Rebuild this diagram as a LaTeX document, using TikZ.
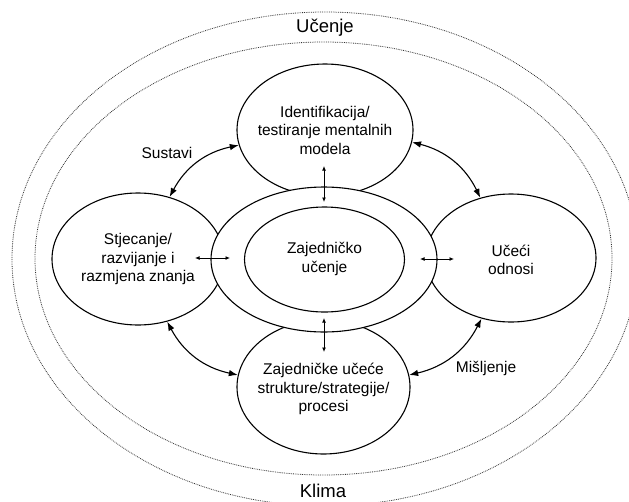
\documentclass[tikz,border=0pt]{standalone}
\usepackage{fontspec}
\setmainfont{Liberation Sans}
\usetikzlibrary{shapes.geometric,arrows.meta}
\begin{document}
\begin{tikzpicture}[x=1pt,y=-1pt,
  sat/.style={draw, line width=1.1pt, ellipse, inner sep=0pt, fill=white},
  txt/.style={font=\fontsize{15.5}{18.5}\selectfont, align=center, inner sep=0pt},
  bigtxt/.style={font=\fontsize{18.5}{22}\selectfont, inner sep=0pt},
  dotring/.style={draw=black!80, line width=0.8pt, dash pattern=on 0.8pt off 1pt},
  bigarrow/.style={line width=1.1pt, {Latex[length=9pt,width=6.5pt]}-{Latex[length=9pt,width=6.5pt]}, bend left=25},
  smallarrow/.style={line width=0.9pt, {Latex[length=4.5pt,width=4pt]}-{Latex[length=4.5pt,width=4pt]}}
]
\fill[white] (0,0) rectangle (629,501);
\useasboundingbox (0,0) rectangle (629,501);

% dotted rings
\draw[dotring] (325,259) ellipse [x radius=313, y radius=247];
\draw[dotring] (323.5,258.5) ellipse [x radius=288.5, y radius=216.5];

% satellite ellipses
\node[sat, minimum width=176pt, minimum height=132pt] (top) at (325,130) {};
\node[sat, minimum width=172pt, minimum height=132pt] (left) at (138,259) {};
\node[sat, minimum width=170pt, minimum height=128pt] (right) at (511,258) {};
\node[sat, minimum width=173pt, minimum height=134pt] (bottom) at (323.5,387) {};

% central ellipses
\node[sat, minimum width=226pt, minimum height=145pt] (cout) at (324,259.5) {};
\node[sat, minimum width=160pt, minimum height=105pt] (cin) at (324.5,259.5) {};

% texts
\node[txt] (ttop) at (325,130) {Identifikacija/\\testiranje mentalnih\\modela};
\node[txt] (tleft) at (138,259) {Stjecanje/\\razvijanje i\\razmjena znanja};
\node[txt] (tright) at (511,260) {Učeći\\odnosi};
\node[txt] (tbottom) at (323.5,389) {Zajedničke učeće\\strukture/strategije/\\procesi};
\node[txt] (tcin) at (324.5,259) {Zajedničko\\učenje};

\node[txt] (sustavi) at (167,153) {Sustavi};
\node[txt] (misljenje) at (486,368) {Mišljenje};
\node[bigtxt] (ucenje) at (325,28) {Učenje};
\node[bigtxt] (klima) at (323,491) {Klima};

% curved double arrows
\draw[bigarrow] (left.63) to (top.190);
\draw[bigarrow] (top.352) to (right.117);
\draw[bigarrow] (right.244) to (bottom.8);
\draw[bigarrow] (bottom.172) to (left.295);

% small double arrows
\coordinate (vt1) at (324,166); \coordinate (vt2) at (324,202);
\coordinate (vb1) at (324,318); \coordinate (vb2) at (324,352);
\coordinate (hl1) at (195,258); \coordinate (hl2) at (230,258);
\coordinate (hr1) at (420,259); \coordinate (hr2) at (454,259);
\draw[smallarrow] (vt1) -- (vt2);
\draw[smallarrow] (vb1) -- (vb2);
\draw[smallarrow] (hl1) -- (hl2);
\draw[smallarrow] (hr1) -- (hr2);
\end{tikzpicture}
\end{document}
